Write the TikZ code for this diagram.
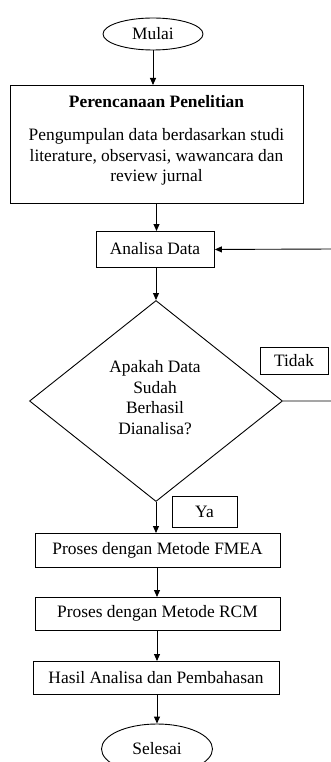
\documentclass[tikz,border=0pt]{standalone}
\usepackage{fontspec}
\setmainfont{Liberation Serif}
\usetikzlibrary{shapes.geometric,arrows.meta}
\begin{document}
\begin{tikzpicture}[x=1pt,y=-1pt,
  every node/.style={font=\fontsize{17.4}{20.5}\selectfont},
  box/.style={draw,line width=0.9pt,inner sep=0pt,anchor=north west},
  term/.style={draw,ellipse,line width=0.9pt,inner sep=0pt},
  flow/.style={line width=0.9pt,-{Triangle[length=7pt,width=6pt]}}]
\useasboundingbox (0,0) rectangle (331,762);
% terminals
\node[term,minimum width=100pt,minimum height=32pt] (mulai) at (153,34) {Mulai};
% planning box
\node[box,minimum width=293pt,minimum height=118pt] (plan) at (10,85) {};
\node[inner sep=0pt] (plantitle) at (156.5,102) {\bfseries Perencanaan Penelitian};
\node[inner sep=0pt,align=center] (planbody) at (156.5,157) {Pengumpulan data berdasarkan studi\\literature, observasi, wawancara dan\\review jurnal};
% analysis
\node[box,minimum width=118pt,minimum height=36pt] (ana) at (96,231) {};
\node[inner sep=0pt] (anatext) at (155,249) {Analisa Data};
% decision
\node[draw,diamond,line width=0.9pt,inner sep=0pt,minimum width=253pt,minimum height=201pt] (dec) at (156,401) {};
\node[inner sep=0pt,align=center] (dectext) at (155,397.5) {Apakah Data\\Sudah\\Berhasil\\Dianalisa?};
% labels
\node[box,minimum width=68pt,minimum height=27pt] (tidak) at (260,347) {};
\node[inner sep=0pt] (tidaktext) at (294,360.5) {Tidak};
\node[box,minimum width=65pt,minimum height=31pt] (ya) at (172,496) {};
\node[inner sep=0pt] (yatext) at (204.5,511.5) {Ya};
% process boxes
\node[box,minimum width=245pt,minimum height=34pt] (fmea) at (35,533) {};
\node[inner sep=0pt] (fmeatext) at (157.5,550) {Proses dengan Metode FMEA};
\node[box,minimum width=245pt,minimum height=33pt] (rcm) at (35,597) {};
\node[inner sep=0pt] (rcmtext) at (157.5,613.5) {Proses dengan Metode RCM};
\node[box,minimum width=246pt,minimum height=33pt] (hasil) at (33,661) {};
\node[inner sep=0pt] (hasiltext) at (156,677.5) {Hasil Analisa dan Pembahasan};
\node[term,minimum width=111pt,minimum height=50pt] (selesai) at (157,749) {Selesai};
% connectors
\draw[flow] (mulai.south) -- (mulai.south |- plan.north);
\draw[flow] (plantitle.north |- plan.south) -- (plantitle.north |- ana.north);
\draw[flow] (dec.north |- ana.south) -- (dec.north);
\draw[flow] (dec.south) -- (dec.south |- fmea.north);
\draw[flow] (selesai.north |- fmea.south) -- (selesai.north |- rcm.north);
\draw[flow] (selesai.north |- rcm.south) -- (selesai.north |- hasil.north);
\draw[flow] (selesai.north |- hasil.south) -- (selesai.north);
\draw[flow] (dec.east) -- (334,401) -- (334,249) -- (ana.east);
\end{tikzpicture}
\end{document}
